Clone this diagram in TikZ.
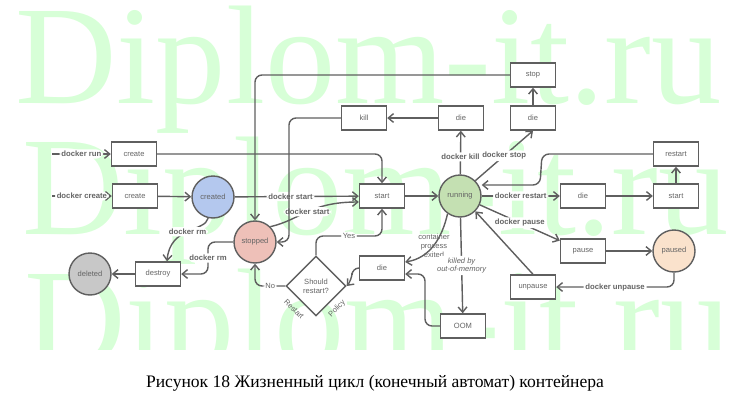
\documentclass[tikz,border=0pt]{standalone}
\usepackage{fontspec}
\setmainfont{Liberation Serif}
\setsansfont{Liberation Sans}
\usetikzlibrary{arrows.meta}
\usetikzlibrary{shapes.geometric}

\definecolor{edgegray}{RGB}{95,95,95}
\definecolor{textgray}{RGB}{100,100,100}
\definecolor{wmgreen}{RGB}{215,255,215}
\definecolor{createdblue}{RGB}{180,200,238}
\definecolor{stoppedred}{RGB}{238,192,184}
\definecolor{runninggreen}{RGB}{196,224,178}
\definecolor{pausedpeach}{RGB}{250,226,204}
\definecolor{deletedgray}{RGB}{200,200,200}

\tikzset{
  event/.style={draw=edgegray, thick, fill=white, minimum width=0.9cm, minimum height=0.48cm, inner sep=0pt, text=textgray, font=\sffamily\fontsize{4.3}{5}\selectfont},
  state/.style={circle, draw=edgegray, thick, minimum size=0.84cm, inner sep=0pt, text=textgray, font=\sffamily\fontsize{4.3}{5}\selectfont},
  cmd/.style={fill=white, inner sep=1pt, text=textgray, font=\sffamily\bfseries\fontsize{4.4}{5}\selectfont},
  note/.style={fill=white, inner sep=1pt, text=textgray, font=\sffamily\fontsize{4.3}{5}\selectfont, align=center},
  flow/.style={draw=edgegray, thick, rounded corners=4pt, -{Straight Barb[length=3pt,width=5pt]}},
  watermark/.style={text=wmgreen, font=\fontsize{80}{80}\selectfont, anchor=base west, inner sep=0pt}
}

\begin{document}
\begin{tikzpicture}[x=0.02cm, y=-0.02cm]
                \useasboundingbox (0,0) rectangle (750,406);
                \node[watermark] (wm1) at (15,103) {Diplom-it.ru};
                \node[watermark] (wm2) at (22,234) {Diplom-it.ru};
                \node[watermark] (wm3) at (24,366) {Diplom-it.ru};
                \fill[white] (0,350) rectangle (750,406);

                \coordinate (runin) at (52,154);
                \coordinate (createin) at (52,196);
                \node[event] (createa) at (134,154) {create};
                \node[event] (createb) at (135,196) {create};
                \node[state, fill=createdblue] (created) at (213,197) {created};
                \node[event] (start) at (382,196) {start};
                \node[state, fill=stoppedred] (stopped) at (255,242) {stopped};
                \node[event] (kill) at (364,118) {kill};
                \node[event] (destroy) at (158,274) {destroy};
                \node[state, fill=deletedgray] (deleted) at (90,274) {deleted};
                \node[event] (dieexit) at (382,268) {die};
                \node[diamond, draw=edgegray, thick, fill=white, minimum size=1.2cm, inner sep=0pt, align=center, text=textgray, font=\sffamily\fontsize{4.3}{5}\selectfont] (policy) at (316,286) {Should\\restart?};
                \node[state, fill=runninggreen] (running) at (460,196) {running};
                \node[event] (diekill) at (461,118) {die};
                \node[event] (diestop) at (533,118) {die};
                \node[event] (stop) at (533,75) {stop};
                \node[event] (restart) at (676,154) {restart};
                \node[event] (dierestart) at (583,196) {die};
                \node[event] (startrestart) at (676,196) {start};
                \node[event] (pause) at (583,251) {pause};
                \node[state, fill=pausedpeach] (paused) at (674,251) {paused};
                \node[event] (unpause) at (533,287) {unpause};
                \node[event] (oom) at (463,326) {OOM};

                \draw[flow] (runin) -- node[cmd] {docker run} (createa);
                \draw[flow] (createin) -- node[cmd] {docker create} (createb);
                \draw[flow] (createa) -- (createa.east -| start) -- (start);
                \draw[flow] (createb) -- (created);
                \draw[flow] (created) -- node[cmd, pos=0.45] {docker start} (start);
                \draw[flow] (stopped.north east) .. controls (300,220) and (310,202) .. node[cmd] {docker start} (start.west |- 0,202);
                \draw[flow] (stop) -- (stop -| stopped) -- (stopped);
                \draw[flow] (kill) -- (289,118) -- (289,242) -- (stopped);
                \draw[flow] (diekill) -- (kill);
                \draw[flow] (running) -- node[cmd, pos=0.4] {docker kill} (diekill);
                \draw[flow] (running.north east) -- node[cmd, pos=0.5] {docker stop} (diestop.south);
                \draw[flow] (diestop) -- (stop);
                \draw[flow] (start) -- (running);
                \draw[flow] (running) -- node[cmd] {docker restart} (dierestart);
                \draw[flow] (dierestart) -- (startrestart);
                \draw[flow] (startrestart) -- (restart);
                \draw[flow] (restart) -- (542,154) -- (540,185) -- (running.east |- 0,185);
                \draw[flow] (running) -- node[cmd] {docker pause} (pause);
                \draw[flow] (pause) -- (paused);
                \draw[flow] (paused) |- node[cmd, pos=0.75] {docker unpause} (unpause);
                \draw[flow] (unpause.north) -- (running.south east);
                \draw[flow] (running.235) .. controls (442,238) and (430,258) .. (dieexit.east |- 0,262);
                \node[note, fill=none] (exitlbl) at (434,246) {container\\process\\exited};
                \draw[flow] (running) -- node[note, pos=0.5, font=\sffamily\itshape\fontsize{4.3}{5}\selectfont] {killed by\\out-of-memory} (oom);
                \draw[flow] (oom) -- (425,326) -- (425,274) -- (dieexit.east |- 0,274);
                \draw[flow] (dieexit) -- (352,268) -- (352,280) -- (policy.east);
                \draw[flow] (policy.north) |- node[note, pos=0.75] {Yes} (start.south |- 0,236) -- (start);
                \draw[flow] (policy.west) -| node[note, pos=0.25] {No} (stopped);
                \draw[flow] (created) .. controls (205,232) and (170,226) .. node[cmd] {docker rm} (destroy.north -| 167,0);
                \draw[flow] (stopped) -- (208,242) -- node[cmd] {docker rm} (208,274) -- (destroy);
                \draw[flow] (destroy) -- (deleted);
                \node[note, fill=none, rotate=-45] (restartlbl) at (294,309) {Restart};
                \node[note, fill=none, rotate=45] (policylbl) at (337,309) {Policy};

                \node[font=\fontsize{10}{12}\selectfont] (caption) at (375,383) {Рисунок 18 Жизненный цикл (конечный автомат) контейнера};
            \end{tikzpicture}
\end{document}
